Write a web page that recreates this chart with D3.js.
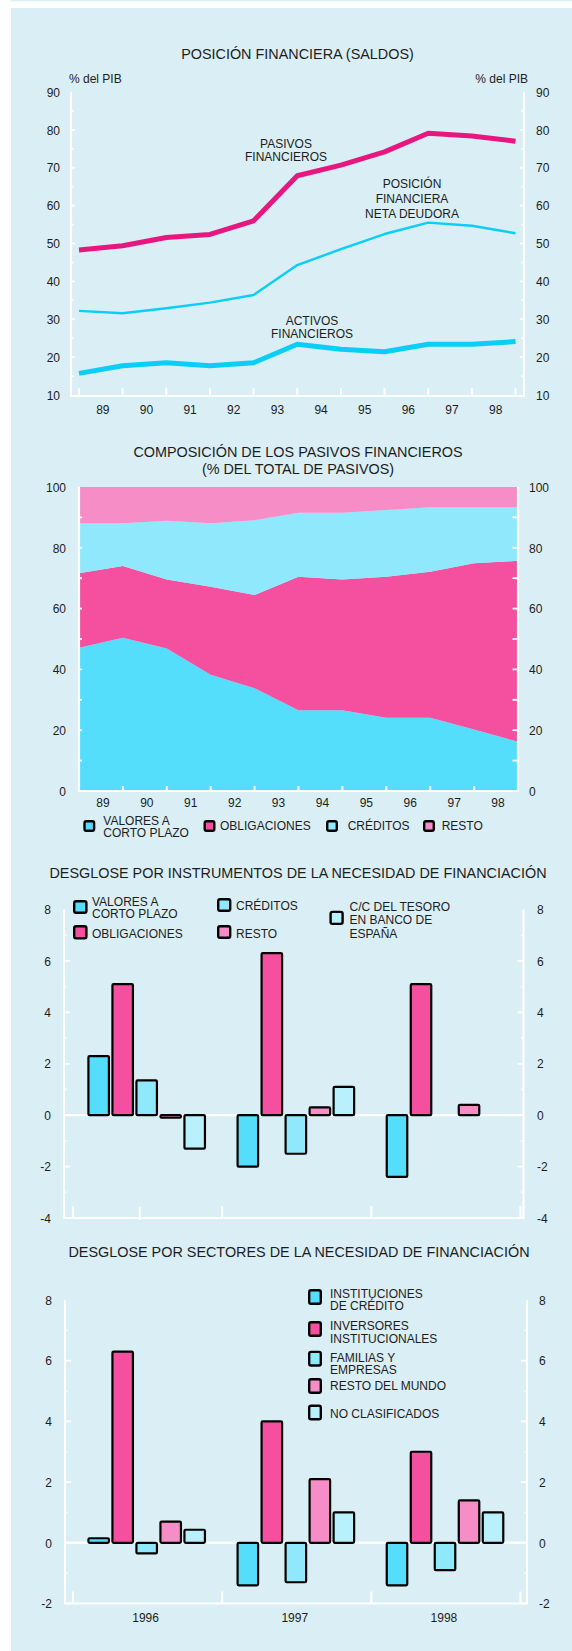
<!DOCTYPE html>
<html>
<head>
<meta charset="utf-8">
<script src="https://cdn.jsdelivr.net/npm/d3@7"></script>
<style>
  body { margin: 0; background: #fff; }
  svg { display: block; }
  text { font-family: "Liberation Sans", Arial, Helvetica, sans-serif; fill: #1d1d1b; font-size: 12px; }
  text.title { font-size: 14.4px; }
</style>
</head>
<body>
<svg id="chart" width="572" height="1651"></svg>
<script>
// ---------- Data ----------
// Posición financiera (saldos), % del PIB, end of each year 1988..1998
const yearTicks = ["89", "90", "91", "92", "93", "94", "95", "96", "97", "98"];
const pasivos = [48.3, 49.4, 51.6, 52.4, 56.0, 67.9, 70.7, 74.2, 79.1, 78.4, 77.0];
const netaDeudora = [32.2, 31.6, 32.9, 34.4, 36.4, 44.3, 48.5, 52.5, 55.5, 54.7, 52.7];
const activos = [15.7, 17.7, 18.5, 17.7, 18.5, 23.4, 22.1, 21.4, 23.4, 23.4, 24.1];

// Composición de los pasivos financieros, % del total
const compValores = [47.1, 50.4, 46.9, 38.2, 33.8, 26.6, 26.6, 24.1, 24.1, 20.2, 16.2];
const compObligaciones = [24.5, 23.6, 22.7, 29.0, 30.7, 43.9, 43.0, 46.4, 48.0, 54.7, 59.5];
const compCreditos = [16.5, 14.1, 19.3, 20.9, 24.6, 21.0, 21.9, 21.9, 21.2, 18.4, 17.6];
const compResto = [11.9, 11.9, 11.1, 11.9, 10.9, 8.5, 8.5, 7.6, 6.7, 6.7, 6.7];

// Necesidad de financiación, 1996-1998
const barYears = ["1996", "1997", "1998"];
// por instrumentos
const instValores = [2.3, -2.0, -2.4];
const instObligaciones = [5.1, 6.3, 5.1];
const instCreditos = [1.35, -1.5, 0];
const instResto = [-0.1, 0.3, 0.4];
const instCCTesoro = [-1.3, 1.1, 0];
// por sectores
const secInstituciones = [0.15, -1.4, -1.4];
const secInversores = [6.3, 4.0, 3.0];
const secFamilias = [-0.35, -1.3, -0.9];
const secRestoMundo = [0.7, 2.1, 1.4];
const secNoClasificados = [0.43, 1.0, 1.0];

// ---------- Colours ----------
const BG = "#DAEEF5";
const C_VAL = "#55DEFC", C_OBL = "#F4509F", C_CRE = "#8FE8FB", C_RES = "#F78DC6", C_CC = "#B8F0FC";
const C_PAS = "#E8177F", C_ACT = "#0ACEF7";

const svg = d3.select("#chart");
svg.append("rect").attr("x", 11).attr("y", 0).attr("width", 561).attr("height", 1.3).attr("fill", BG);
svg.append("rect").attr("x", 11).attr("y", 8).attr("width", 561).attr("height", 1643).attr("fill", BG);

// ---------- Helpers ----------
function textLines(g, x, y, lines, anchor, lh, cls) {
  const t = g.append("text").attr("text-anchor", anchor || "start");
  if (cls) t.attr("class", cls);
  lines.forEach((s, i) => {
    t.append("tspan").attr("x", x).attr("y", y + i * (lh || 13)).attr("dy", "0.35em").text(s);
  });
  return t;
}
function whiteLine(g, x1, y1, x2, y2, w) {
  g.append("line").attr("x1", x1).attr("y1", y1).attr("x2", x2).attr("y2", y2)
    .attr("stroke", "#fff").attr("stroke-width", w || 2);
}
function frame(g, left, right, top, bottom) {
  g.append("path").attr("d", `M${left},${top}V${bottom}H${right}V${top}`)
    .attr("fill", "none").attr("stroke", "#fff").attr("stroke-width", 2.2);
}
function valueAxis(g, scale, values, x, side) {
  const ax = (side === "left" ? d3.axisLeft(scale) : d3.axisRight(scale))
    .tickValues(values).tickSize(0).tickPadding(0).tickFormat(d => String(d));
  const a = g.append("g").attr("transform", `translate(${x},0)`).call(ax);
  a.select(".domain").remove();
  a.selectAll("text").attr("dy", "0.35em");
}
function legendBox(g, x, y, w, h, color) {
  const sw = 2.4;
  g.append("rect").attr("x", x + sw / 2).attr("y", y + sw / 2)
    .attr("width", w - sw).attr("height", h - sw).attr("rx", 1.8)
    .attr("fill", color).attr("stroke", "#000").attr("stroke-width", sw);
}

// ---------- Chart 1: Posición financiera ----------
{
  const g = svg.append("g");
  const x = d3.scalePoint().domain(d3.range(pasivos.length)).range([79, 515.5]);
  const y = d3.scaleLinear().domain([10, 90]).range([395, 92]);
  const L = 71, R = 524, T = 92, B = 396;

  textLines(g, 297.5, 54, ["POSICIÓN FINANCIERA (SALDOS)"], "middle", 0, "title");
  textLines(g, 69, 79, ["% del PIB"], "start");
  textLines(g, 528, 79, ["% del PIB"], "end");

  frame(g, L, R, T, B);
  d3.range(15, 90, 5).forEach(v => {
    const len = v % 10 === 0 ? 4 : 2.5;
    whiteLine(g, L, y(v), L + len, y(v), 1.8);
    whiteLine(g, R, y(v), R - len, y(v), 1.8);
  });
  x.domain().forEach(i => whiteLine(g, x(i), B - 8, x(i), B, 2));

  valueAxis(g, y, d3.range(10, 91, 10), 60, "left");
  valueAxis(g, y, d3.range(10, 91, 10), 536, "right");

  yearTicks.forEach((lab, i) => {
    textLines(g, (x(i) + x(i + 1)) / 2 + 2, 410, [lab], "middle");
  });

  const line = d3.line().x((d, i) => x(i)).y(d => y(d));
  g.append("path").datum(netaDeudora).attr("d", line).attr("fill", "none")
    .attr("stroke", C_ACT).attr("stroke-width", 2.4).attr("stroke-linejoin", "round");
  g.append("path").datum(activos).attr("d", line).attr("fill", "none")
    .attr("stroke", C_ACT).attr("stroke-width", 5).attr("stroke-linejoin", "round");
  g.append("path").datum(pasivos).attr("d", line).attr("fill", "none")
    .attr("stroke", C_PAS).attr("stroke-width", 5).attr("stroke-linejoin", "round");

  textLines(g, 286, 144, ["PASIVOS", "FINANCIEROS"], "middle", 13);
  textLines(g, 412, 183.3, ["POSICIÓN", "FINANCIERA", "NETA DEUDORA"], "middle", 15);
  textLines(g, 312, 321, ["ACTIVOS", "FINANCIEROS"], "middle", 12.7);
}

// ---------- Chart 2: Composición de los pasivos ----------
{
  const g = svg.append("g");
  const x = d3.scalePoint().domain(d3.range(compValores.length)).range([79, 518]);
  const y = d3.scaleLinear().domain([0, 100]).range([791, 487]);
  const L = 79, R = 518, T = 487, B = 791;

  textLines(g, 298, 452.3, ["COMPOSICIÓN DE LOS PASIVOS FINANCIEROS", "(% DEL TOTAL DE PASIVOS)"], "middle", 16.7, "title");

  const keys = ["valores", "obligaciones", "creditos", "resto"];
  const colors = { valores: C_VAL, obligaciones: C_OBL, creditos: C_CRE, resto: C_RES };
  const rows = compValores.map((v, i) => ({
    valores: v, obligaciones: compObligaciones[i], creditos: compCreditos[i], resto: compResto[i]
  }));
  const series = d3.stack().keys(keys)(rows);
  const area = d3.area().x((d, i) => x(i)).y0(d => y(d[0])).y1(d => y(d[1]));
  g.selectAll(null).data(series).join("path")
    .attr("d", area).attr("fill", s => colors[s.key]);

  frame(g, L, R, T, B);
  d3.range(10, 100, 10).forEach(v => {
    whiteLine(g, L, y(v), L + 3, y(v), 1.8);
    whiteLine(g, R, y(v), R - 5.5, y(v), 1.8);
  });
  x.domain().slice(1, -1).forEach(i => whiteLine(g, x(i), B - 5, x(i), B, 2));

  valueAxis(g, y, d3.range(0, 101, 20), 66, "left");
  valueAxis(g, y, d3.range(0, 101, 20), 529, "right");

  yearTicks.forEach((lab, i) => {
    textLines(g, (x(i) + x(i + 1)) / 2 + 2, 802.3, [lab], "middle");
  });

  // legend
  legendBox(g, 83.3, 820, 12, 12, C_VAL);
  textLines(g, 103.3, 821, ["VALORES A", "CORTO PLAZO"], "start", 12);
  legendBox(g, 203.5, 820, 12, 12, C_OBL);
  textLines(g, 220, 826, ["OBLIGACIONES"], "start");
  legendBox(g, 326, 820, 12, 12, C_CRE);
  textLines(g, 347.7, 826, ["CRÉDITOS"], "start");
  legendBox(g, 423, 820, 12, 12, C_RES);
  textLines(g, 441.7, 826, ["RESTO"], "start");
}

// ---------- Bar chart helper ----------
function barChart(g, cfg) {
  const x0 = d3.scaleBand().domain(barYears).range([71, 518.5]);
  const keys = cfg.series.map(s => s.key);
  const x1 = d3.scaleBand().domain(keys).range([0, x0.bandwidth()])
    .paddingInner(0.146).paddingOuter(0.68);
  const y = d3.scaleLinear().domain(cfg.domain).range([cfg.bottom, cfg.top]);
  const { L, R } = cfg;

  frame(g, L, R, cfg.top, cfg.bottom);
  whiteLine(g, L, y(0), R, y(0), 2.4);
  d3.range(cfg.domain[0] + 1, cfg.domain[1]).forEach(v => {
    const len = v % 2 === 0 ? 6 : 2.5;
    whiteLine(g, L, y(v), L + len, y(v), 1.8);
    whiteLine(g, R, y(v), R - len, y(v), 1.8);
  });
  const edges = barYears.map(d => x0(d)).concat([x0.range()[1]]);
  edges.forEach(e => whiteLine(g, e + 2, cfg.bottom - 12, e + 2, cfg.bottom, 2.2));

  const even = d3.range(cfg.domain[0], cfg.domain[1] + 1, 2);
  valueAxis(g, y, even, cfg.leftLabelX, "left");
  valueAxis(g, y, even, cfg.rightLabelX, "right");

  const sw = 2.2;
  cfg.series.forEach(s => {
    g.selectAll(null).data(s.values.map((v, i) => ({ v, year: barYears[i] })).filter(d => d.v !== 0))
      .join("rect")
      .attr("x", d => x0(d.year) + x1(s.key) + sw / 2)
      .attr("width", x1.bandwidth())
      .attr("y", d => Math.min(y(d.v), y(0)))
      .attr("height", d => Math.abs(y(d.v) - y(0)))
      .attr("rx", 1.2)
      .attr("fill", s.color).attr("stroke", "#000").attr("stroke-width", sw);
  });
  return { x0, y };
}

// ---------- Chart 3: Desglose por instrumentos ----------
{
  const g = svg.append("g");
  textLines(g, 298, 873.3, ["DESGLOSE POR INSTRUMENTOS DE LA NECESIDAD DE FINANCIACIÓN"], "middle", 0, "title");
  barChart(g, {
    domain: [-4, 8], top: 909.5, bottom: 1218, L: 64, R: 523.5,
    leftLabelX: 51, rightLabelX: 537,
    series: [
      { key: "valores", values: instValores, color: C_VAL },
      { key: "obligaciones", values: instObligaciones, color: C_OBL },
      { key: "creditos", values: instCreditos, color: C_CRE },
      { key: "resto", values: instResto, color: C_RES },
      { key: "cc", values: instCCTesoro, color: C_CC }
    ]
  });
  whiteLine(g, 139.7, 1207, 139.7, 1220, 2);

  legendBox(g, 73, 900, 14.6, 14, C_VAL);
  textLines(g, 92, 901.7, ["VALORES A", "CORTO PLAZO"], "start", 12.3);
  legendBox(g, 73, 925, 14.6, 14.6, C_OBL);
  textLines(g, 92, 933.3, ["OBLIGACIONES"], "start");
  legendBox(g, 217, 898, 14.4, 14, C_CRE);
  textLines(g, 236, 906, ["CRÉDITOS"], "start");
  legendBox(g, 217, 925, 14.4, 14, C_RES);
  textLines(g, 236, 933.3, ["RESTO"], "start");
  legendBox(g, 329.4, 910.7, 14.4, 14.4, C_CC);
  textLines(g, 349.5, 906.7, ["C/C DEL TESORO", "EN BANCO DE", "ESPAÑA"], "start", 13.3);
}

// ---------- Chart 4: Desglose por sectores ----------
{
  const g = svg.append("g");
  textLines(g, 299, 1252.3, ["DESGLOSE POR SECTORES DE LA NECESIDAD DE FINANCIACIÓN"], "middle", 0, "title");
  const { x0 } = barChart(g, {
    domain: [-2, 8], top: 1300, bottom: 1603.5, L: 65, R: 527,
    leftLabelX: 52, rightLabelX: 539,
    series: [
      { key: "instituciones", values: secInstituciones, color: C_VAL },
      { key: "inversores", values: secInversores, color: C_OBL },
      { key: "familias", values: secFamilias, color: C_CRE },
      { key: "restoMundo", values: secRestoMundo, color: C_RES },
      { key: "noClasificados", values: secNoClasificados, color: C_CC }
    ]
  });
  const ax = d3.axisBottom(x0).tickSize(0).tickPadding(0);
  const a = g.append("g").attr("transform", "translate(0,1617.3)").call(ax);
  a.select(".domain").remove();
  a.selectAll("text").attr("y", 0).attr("dy", "0.35em");

  const items = [
    { lines: ["INSTITUCIONES", "DE CRÉDITO"], c: C_VAL, by: 1289, ty: 1293.3 },
    { lines: ["INVERSORES", "INSTITUCIONALES"], c: C_OBL, by: 1321, ty: 1325.7 },
    { lines: ["FAMILIAS Y", "EMPRESAS"], c: C_CRE, by: 1350.7, ty: 1357.3 },
    { lines: ["RESTO DEL MUNDO"], c: C_RES, by: 1378, ty: 1386 },
    { lines: ["NO CLASIFICADOS"], c: C_CC, by: 1404.5, ty: 1413.3 }
  ];
  items.forEach(it => {
    legendBox(g, 308, it.by, 14, 16, it.c);
    textLines(g, 330, it.ty, it.lines, "start", 12.8);
  });
}
</script>
</body>
</html>
